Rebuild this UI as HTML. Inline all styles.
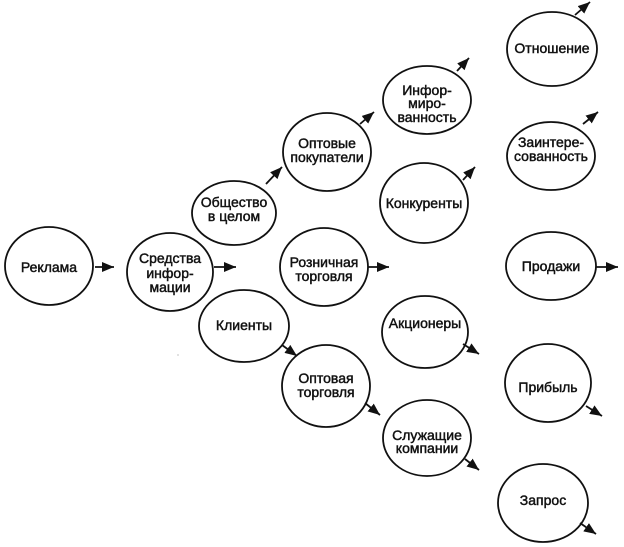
<!DOCTYPE html>
<html>
<head>
<meta charset="utf-8">
<style>
  html,body{margin:0;padding:0;background:#fff;}
  svg{display:block;}
  text{font-family:"Liberation Sans","DejaVu Sans",sans-serif;font-size:14px;fill:#111;text-anchor:middle;dominant-baseline:central;stroke:#111;stroke-width:0.45px;}
  ellipse{fill:none;stroke:#111;stroke-width:1.8;}
  line{stroke:#111;stroke-width:1.8;}
</style>
</head>
<body>
<svg width="624" height="547" viewBox="0 0 624 547" xmlns="http://www.w3.org/2000/svg">
  <defs>
    <marker id="ah" markerUnits="userSpaceOnUse" markerWidth="14" markerHeight="11" refX="12" refY="5" orient="auto">
      <path d="M0,0 L12,5 L0,10 z" fill="#111"/>
    </marker>
  </defs>

  <!-- Column 1 -->
  <ellipse cx="49" cy="266" rx="44" ry="39"/>
  <text x="49" y="267">Реклама</text>
  <line x1="95" y1="267" x2="114" y2="267" marker-end="url(#ah)"/>

  <!-- Column 2 -->
  <ellipse cx="170" cy="272" rx="43" ry="39"/>
  <text x="170" y="258">Средства</text>
  <text x="170" y="273">инфор-</text>
  <text x="170" y="287">мации</text>
  <line x1="214" y1="267" x2="236" y2="267" marker-end="url(#ah)"/>

  <!-- Column 3 -->
  <ellipse cx="234" cy="213" rx="42" ry="32"/>
  <text x="234" y="202">Общество</text>
  <text x="234" y="216">в целом</text>
  <line x1="266" y1="184" x2="282" y2="167" marker-end="url(#ah)"/>

  <ellipse cx="244" cy="326" rx="45" ry="36"/>
  <text x="244" y="325">Клиенты</text>
  <line x1="282" y1="345" x2="297" y2="356" marker-end="url(#ah)"/>

  <!-- Column 4 -->
  <ellipse cx="327" cy="152" rx="44" ry="39"/>
  <text x="327" y="143">Оптовые</text>
  <text x="327" y="157">покупатели</text>
  <line x1="360" y1="124" x2="374" y2="112" marker-end="url(#ah)"/>

  <ellipse cx="324" cy="267" rx="44" ry="39"/>
  <text x="324" y="262">Розничная</text>
  <text x="324" y="276">торговля</text>
  <line x1="368" y1="267" x2="389" y2="267" marker-end="url(#ah)"/>

  <ellipse cx="326" cy="386" rx="44" ry="41"/>
  <text x="326" y="378">Оптовая</text>
  <text x="326" y="392">торговля</text>
  <line x1="365" y1="403" x2="380" y2="415" marker-end="url(#ah)"/>

  <!-- Column 5 -->
  <ellipse cx="427" cy="100" rx="44" ry="34"/>
  <text x="427" y="90">Инфор-</text>
  <text x="427" y="103">миро-</text>
  <text x="427" y="117">ванность</text>
  <line x1="457" y1="71" x2="469" y2="58" marker-end="url(#ah)"/>

  <ellipse cx="424" cy="203" rx="44" ry="40"/>
  <text x="424" y="203">Конкуренты</text>
  <line x1="463" y1="180" x2="475" y2="167" marker-end="url(#ah)"/>

  <ellipse cx="425" cy="332" rx="43" ry="36"/>
  <text x="425" y="323">Акционеры</text>
  <line x1="463" y1="344" x2="479" y2="354" marker-end="url(#ah)"/>

  <ellipse cx="427" cy="438" rx="44" ry="38"/>
  <text x="427" y="435">Служащие</text>
  <text x="427" y="448">компании</text>
  <line x1="465" y1="459" x2="479" y2="470" marker-end="url(#ah)"/>

  <!-- Column 6 -->
  <ellipse cx="552" cy="49" rx="45" ry="37"/>
  <text x="552" y="48">Отношение</text>
  <line x1="575" y1="15" x2="590" y2="2" marker-end="url(#ah)"/>

  <ellipse cx="551" cy="156" rx="44" ry="34"/>
  <text x="551" y="142">Заинтере-</text>
  <text x="551" y="156">сованность</text>
  <line x1="583" y1="124" x2="598" y2="112" marker-end="url(#ah)"/>

  <ellipse cx="551" cy="266" rx="45" ry="34"/>
  <text x="551" y="266">Продажи</text>
  <line x1="596" y1="267" x2="618" y2="267" marker-end="url(#ah)"/>

  <ellipse cx="548" cy="383" rx="43" ry="39"/>
  <text x="548" y="387">Прибыль</text>
  <line x1="586" y1="406" x2="602" y2="416" marker-end="url(#ah)"/>

  <ellipse cx="543" cy="503" rx="45" ry="39"/>
  <text x="543" y="500">Запрос</text>
  <line x1="580" y1="523" x2="596" y2="534" marker-end="url(#ah)"/>

  <!-- small scan speck -->
  <circle cx="178" cy="355" r="0.6" fill="#999"/>
</svg>
</body>
</html>
